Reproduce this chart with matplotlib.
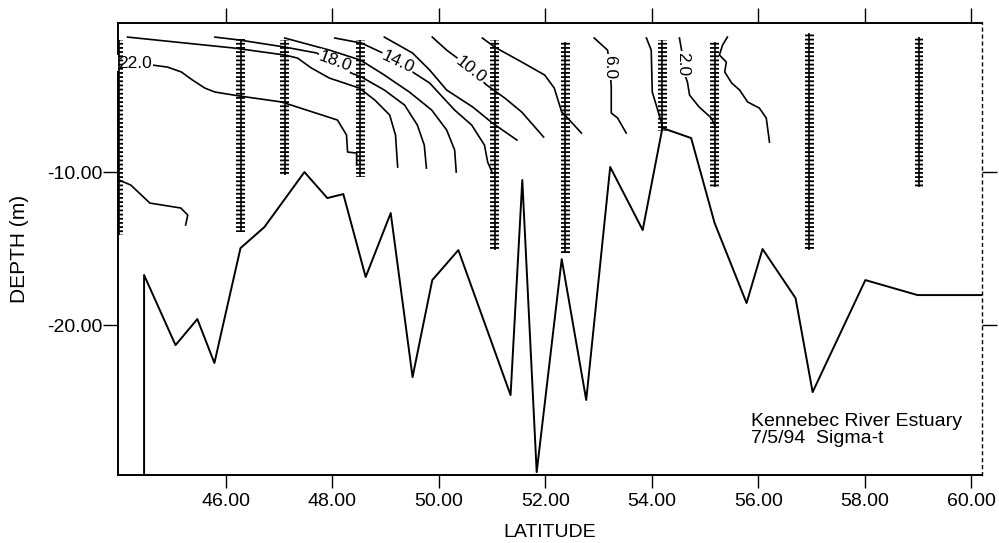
import numpy as np
import matplotlib.pyplot as plt

plt.rcParams['font.family'] = ['Liberation Sans', 'DejaVu Sans']
plt.rcParams['hatch.linewidth'] = 1.3

# bottom profile along the section
bottom_lat = [44.47, 44.47, 45.06, 45.47, 45.79, 46.28, 46.73, 46.92, 47.48, 47.91, 48.21,
              48.63, 49.10, 49.51, 49.88, 50.37, 51.35, 51.57, 51.84, 52.31, 52.77, 53.22,
              53.83, 54.20, 54.74, 55.18, 55.78, 56.08, 56.70, 57.02, 58.01, 58.99, 60.30]
bottom_depth = [-30.0, -16.73, -21.31, -19.61, -22.48, -14.97, -13.59, -12.68, -10.0, -11.70,
                -11.44, -16.86, -12.68, -23.40, -17.06, -15.10, -24.58, -10.52, -29.61, -15.69,
                -24.90, -9.67, -13.79, -7.12, -7.78, -13.33, -18.56, -15.03, -18.24, -24.38,
                -17.06, -18.04, -18.04]

# CTD stations: latitude, shallowest and deepest sample
station_lat = [44.00, 46.28, 47.11, 48.53, 51.05, 52.38, 54.20, 55.18, 56.96, 59.02]
station_top = [-1.4, -1.3, -1.4, -1.4, -1.4, -1.5, -1.4, -1.5, -0.9, -1.2]
station_bottom = [-14.1, -13.9, -10.2, -10.3, -15.1, -15.3, -7.3, -11.0, -15.1, -11.0]

# sigma-t contours traced off the section
c24_lat = [44.00, 44.22, 44.58, 45.16, 45.29, 45.25]
c24_depth = [-10.52, -10.85, -12.03, -12.35, -12.81, -13.46]
c22_lat = [44.00, 44.63, 44.91, 45.17, 45.38, 45.61, 45.80, 46.26, 47.05, 48.10, 48.27, 48.29, 48.46, 48.46]
c22_depth = [-2.88, -3.01, -3.14, -3.46, -3.99, -4.51, -4.77, -5.03, -5.42, -6.60, -7.58, -8.69, -8.76, -9.54]
c20_lat = [44.16, 46.17, 47.11, 47.35, 47.61, 47.95, 48.51, 48.80, 49.08, 49.19, 49.23]
c20_depth = [-1.18, -1.90, -2.35, -2.55, -3.20, -3.86, -4.51, -5.29, -6.27, -7.58, -9.67]
c18_lat = [45.80, 46.26, 47.11, 47.71, 48.36, 48.55, 48.98, 49.36, 49.60, 49.73, 49.77]
c18_depth = [-1.18, -1.37, -1.83, -2.22, -3.53, -3.79, -4.64, -5.62, -6.93, -8.24, -9.74]
c16_lat = [47.11, 47.95, 48.53, 48.95, 49.45, 49.87, 50.15, 50.30, 50.33]
c16_depth = [-1.24, -2.03, -2.68, -3.59, -4.77, -5.95, -7.25, -8.56, -10.0]
c14_lat = [48.05, 48.55, 48.95, 49.51, 49.83, 50.30, 50.62, 50.86, 50.92, 51.01]
c14_depth = [-1.24, -1.57, -2.22, -3.46, -4.18, -5.95, -6.93, -8.24, -9.35, -10.07]
c12_lat = [48.98, 49.51, 49.83, 50.15, 50.64, 51.01, 51.47]
c12_depth = [-1.18, -2.22, -3.33, -4.64, -5.75, -6.80, -7.91]
c10_lat = [49.88, 50.15, 50.35, 50.90, 51.24, 51.56, 51.97]
c10_depth = [-1.18, -2.03, -2.55, -4.31, -5.16, -6.08, -7.71]
c8_lat = [50.82, 51.05, 51.56, 51.99, 52.17, 52.31, 52.42, 52.68]
c8_depth = [-1.24, -1.83, -2.81, -3.66, -4.51, -6.08, -6.47, -7.45]
c6_lat = [52.92, 53.17, 53.21, 53.24, 53.24, 53.36, 53.52]
c6_depth = [-1.24, -2.03, -3.01, -4.44, -6.14, -6.47, -7.45]
c4_lat = [53.90, 53.99, 54.01, 54.18, 54.20]
c4_depth = [-1.24, -2.03, -4.77, -6.73, -7.12]
c2_lat = [54.52, 54.56, 54.59, 54.67, 54.71, 54.89, 55.12, 55.18]
c2_depth = [-1.24, -2.03, -3.33, -4.12, -4.97, -5.75, -6.47, -6.93]
c0_lat = [55.42, 55.33, 55.27, 55.40, 55.37, 55.50, 55.65, 55.80, 56.02, 56.15, 56.21]
c0_depth = [-1.18, -1.70, -2.35, -2.81, -3.46, -4.18, -4.64, -5.42, -5.82, -6.47, -8.04]

contours = [(c24_lat, c24_depth), (c22_lat, c22_depth), (c20_lat, c20_depth),
            (c18_lat, c18_depth), (c16_lat, c16_depth), (c14_lat, c14_depth),
            (c12_lat, c12_depth), (c10_lat, c10_depth), (c8_lat, c8_depth),
            (c6_lat, c6_depth), (c4_lat, c4_depth), (c2_lat, c2_depth), (c0_lat, c0_depth)]

xticks = [46, 48, 50, 52, 54, 56, 58, 60]
yticks = [-10, -20]

fig = plt.figure(figsize=(9.99, 5.43), dpi=100)
ax = fig.add_axes([0.1181, 0.1252, 0.8649, 0.8324])

for lat, dep in contours:
    ax.plot(lat, dep, color='black', lw=1.2, zorder=2, solid_joinstyle='round')

ax.plot(bottom_lat, bottom_depth, color='black', lw=1.4, zorder=2)

# sample marks: vertical line plus dense horizontal ticks
heights = np.array(station_bottom) - np.array(station_top)
ax.bar(station_lat, heights, bottom=station_top, width=0.16, facecolor='none',
       edgecolor='black', linewidth=0, hatch='----', zorder=4)
ax.vlines(station_lat, station_bottom, station_top, color='black', lw=1.2, zorder=4)

lab = dict(fontsize=12.5, ha='center', va='center', zorder=3,
           bbox=dict(facecolor='white', edgecolor='none', pad=0.5))
ax.text(44.30, -2.88, '22.0', rotation=0, **lab)
ax.text(48.05, -2.81, '18.0', rotation=-20, **lab)
ax.text(49.23, -2.81, '14.0', rotation=-25, **lab)
ax.text(50.60, -3.33, '10.0', rotation=-38, **lab)
ax.text(53.21, -3.14, '6.0', rotation=-90, **lab)
ax.text(54.58, -2.94, '2.0', rotation=-90, **lab)

ax.text(55.87, -26.86, 'Kennebec River Estuary\n7/5/94  Sigma-t', fontsize=14,
        ha='left', va='center', linespacing=1.05)

ax.set_xlim(43.98, 60.2)
ax.set_ylim(-29.8, -0.26)
ax.set_xticks(xticks)
ax.set_xticklabels(['%.2f' % v for v in xticks])
ax.set_yticks(yticks)
ax.set_yticklabels(['%.2f' % v for v in yticks])
ax.tick_params(axis='x', which='both', top=True, direction='out', length=9, width=1.0,
               labelsize=14, pad=4)
ax.tick_params(axis='y', which='both', right=True, direction='out', length=11, width=1.0,
               labelsize=14, pad=0)
for t in ax.xaxis.get_major_ticks():
    t.tick2line.set_markersize(11)
ax.set_xlabel('LATITUDE', fontsize=14, labelpad=10)
ax.set_ylabel('DEPTH (m)', fontsize=15, labelpad=13)

for s in ['top', 'bottom', 'left']:
    ax.spines[s].set_linewidth(1.4)
ax.spines['right'].set_linewidth(1.0)
ax.spines['right'].set_linestyle((0, (2, 3)))

fig.savefig('out.png', dpi=100)
